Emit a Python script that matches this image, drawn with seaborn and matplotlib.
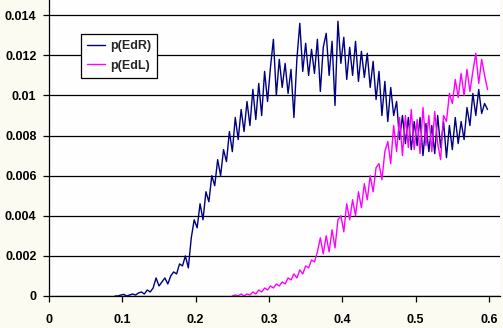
import numpy as np
import pandas as pd
import seaborn as sns
import matplotlib.pyplot as plt

step = 0.004
edr_start = 0.090
edr = [0.0, 0.0, 0.00005, 0.00008, 0.0, 0.00005, 0.0001, 0.00005, 0.00015, 0.0002,
       0.0001, 0.0003, 0.0002, 0.0004, 0.0009, 0.0005, 0.0007, 0.0009, 0.0006, 0.0010,
       0.0012, 0.0011, 0.0016, 0.0015, 0.0020, 0.0014,
       0.0029, 0.0038, 0.0034, 0.0046, 0.0038, 0.0052, 0.0047, 0.0060, 0.0055, 0.0068,
       0.0060, 0.0073, 0.0067, 0.0082, 0.0072, 0.0089, 0.0078, 0.0093, 0.0082, 0.0097,
       0.0085, 0.0103, 0.0088, 0.0106, 0.0090, 0.0112, 0.0097, 0.0114, 0.0128, 0.0100,
       0.0118, 0.0104, 0.0116, 0.0101, 0.0113, 0.0089, 0.0118, 0.0136, 0.0112, 0.0126,
       0.0110, 0.0123, 0.0111, 0.0128, 0.0102, 0.0124, 0.0131, 0.0110, 0.0127, 0.0095,
       0.0137, 0.0116, 0.0129, 0.0108, 0.0124, 0.0110, 0.0127, 0.0107, 0.0122, 0.0109,
       0.0121, 0.0104, 0.0117, 0.0098, 0.0112, 0.0090, 0.0107, 0.0087, 0.0104, 0.0090,
       0.0097, 0.0078, 0.0090, 0.0076, 0.0089, 0.0073, 0.0087, 0.0075, 0.0089, 0.0070,
       0.0086, 0.0072, 0.0085, 0.0071, 0.0090, 0.0074, 0.0087, 0.0069, 0.0085, 0.0073,
       0.0089, 0.0076, 0.0087, 0.0078, 0.0094, 0.0085, 0.0101, 0.0090, 0.0103, 0.0091,
       0.0096, 0.0093]

edl_start = 0.250
edl = [0.0, 0.00005, 0.0, 0.0001, 0.0, 0.0001, 0.00005, 0.0002, 0.0001, 0.0003,
       0.0002, 0.0004, 0.0003, 0.0005, 0.0004, 0.0006, 0.0005, 0.0007, 0.0006, 0.0009,
       0.0008, 0.0011, 0.0009, 0.0013, 0.0011, 0.0015, 0.0014, 0.0018, 0.0017,
       0.0022, 0.0029, 0.0021, 0.0030, 0.0022, 0.0033, 0.0024, 0.0038, 0.0040, 0.0032,
       0.0046, 0.0038, 0.0048, 0.0040, 0.0052, 0.0044, 0.0056, 0.0048, 0.0060, 0.0052,
       0.0064, 0.0066, 0.0058, 0.0072, 0.0077, 0.0066, 0.0085, 0.0072, 0.0089, 0.0070,
       0.0090, 0.0074, 0.0093, 0.0073, 0.0088, 0.0071, 0.0094, 0.0075, 0.0090, 0.0072,
       0.0092, 0.0076, 0.0068, 0.0090, 0.0087, 0.0101, 0.0096, 0.0108, 0.0099, 0.0111,
       0.0100, 0.0113, 0.0102, 0.0112, 0.0121, 0.0106, 0.0118, 0.0110, 0.0103]

labels = ["p(EdR)", "p(EdL)"]
colors = ["#000080", "#FF00FF"]

df = pd.concat([
    pd.DataFrame({"x": edr_start + step * np.arange(len(edr)), "p": edr, "series": labels[0]}),
    pd.DataFrame({"x": edl_start + step * np.arange(len(edl)), "p": edl, "series": labels[1]}),
])

sns.set_theme(style="white")
plt.rcParams["font.family"] = ["Liberation Sans", "DejaVu Sans"]
plt.rcParams["font.weight"] = "bold"

fig = plt.figure(figsize=(5.03, 3.28), dpi=100, facecolor="#FBFBF2")
ax = fig.add_axes([49 / 503, 32 / 328, 451 / 503, 296 / 328])
ax.set_facecolor("#FEFEFE")

sns.lineplot(data=df, x="x", y="p", hue="series", palette=dict(zip(labels, colors)),
             linewidth=1.0, ax=ax, sort=False)

ax.set_xlim(0, 0.615)
ax.set_ylim(0, 0.01476)
ax.set_xticks([0, 0.1, 0.2, 0.3, 0.4, 0.5, 0.6])
ax.set_xticklabels(["0", "0.1", "0.2", "0.3", "0.4", "0.5", "0.6"])
ax.set_yticks([0, 0.002, 0.004, 0.006, 0.008, 0.01, 0.012, 0.014])
ax.set_yticklabels(["0", "0.002", "0.004", "0.006", "0.008", "0.01", "0.012", "0.014"])
ax.yaxis.grid(True, color="black", linewidth=0.9)
ax.set_axisbelow(True)
ax.set_xlabel("")
ax.set_ylabel("")
for s in ["top", "right"]:
    ax.spines[s].set_visible(False)
for s in ["left", "bottom"]:
    ax.spines[s].set_color("black")
    ax.spines[s].set_linewidth(0.9)
ax.tick_params(axis="both", direction="out", length=4, width=0.9, color="black",
               labelsize=9, labelcolor="black", bottom=True, left=True)
ax.tick_params(axis="y", pad=5)
ax.tick_params(axis="x", pad=9)

leg = ax.legend(loc="upper left", bbox_to_anchor=(0.071, 0.885), borderaxespad=0,
                fancybox=False, frameon=True, edgecolor="black", facecolor="white",
                framealpha=1, fontsize=9, handlelength=1.4, handletextpad=0.4,
                labelspacing=0.6, borderpad=0.5)
leg.get_frame().set_linewidth(0.9)
for t in leg.get_texts():
    t.set_fontweight("bold")

fig.savefig("out.png", dpi=100, facecolor=fig.get_facecolor())
